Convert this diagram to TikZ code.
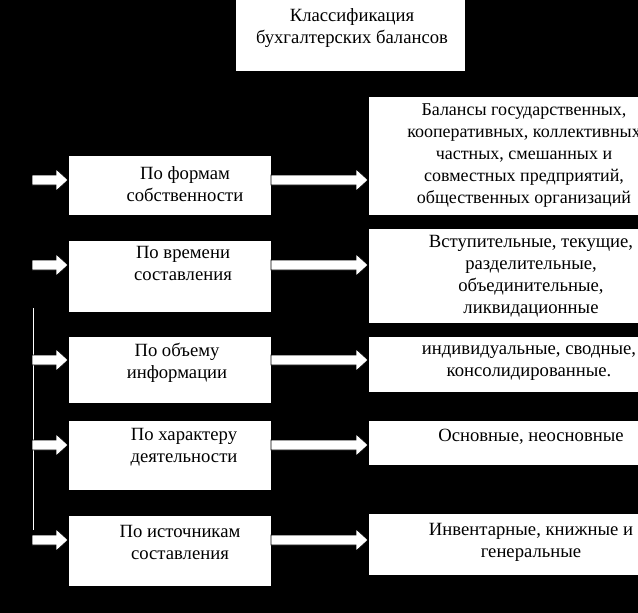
\documentclass[tikz,border=0pt]{standalone}
\usepackage{fontspec}
\setmainfont{Liberation Serif}
\usetikzlibrary{positioning}
\tikzset{every picture/.style={line width=0.75pt}}
\tikzset{box/.style={draw=black,fill=white,inner sep=0pt},
  txt/.style={align=center,inner sep=0pt,font=\fontsize{14}{16.5}\selectfont},
  barrow/.style={fill=white,draw=black,line width=0.5pt}}
\newcommand{\barrowpath}[3]{% x1, x2, y
  \path[barrow] (#1,#3-5) -- (#2-12,#3-5) -- (#2-12,#3-11) -- (#2,#3) -- (#2-12,#3+11) -- (#2-12,#3+5) -- (#1,#3+5) -- cycle;}
\begin{document}
\begin{tikzpicture}[x=0.75pt,y=0.75pt,yscale=-1,xscale=1]
\fill[black] (0,0) rectangle (638,613);
\useasboundingbox (0,0) rectangle (638,613);
%title
\node[box,minimum width=230*0.75pt,minimum height=72*0.75pt] (title) at (350,36) {};
\node[txt] (titlet) at (352,28) {Классификация\\бухгалтерских балансов};
%left column
\node[box,minimum width=203*0.75pt,minimum height=60*0.75pt] (l1) at (169.5,185) {};
\node[box,minimum width=203*0.75pt,minimum height=72*0.75pt] (l2) at (169.5,276) {};
\node[box,minimum width=203*0.75pt,minimum height=67*0.75pt] (l3) at (169.5,369.5) {};
\node[box,minimum width=203*0.75pt,minimum height=70*0.75pt] (l4) at (169.5,455) {};
\node[box,minimum width=203*0.75pt,minimum height=71*0.75pt] (l5) at (169.5,550.5) {};
\node[txt] (l1t) at (185,184) {По формам\\собственности};
\node[txt] (l2t) at (183,263) {По времени\\составления};
\node[txt] (l3t) at (177,363) {По объему\\информации};
\node[txt] (l4t) at (184,447) {По характеру\\деятельности};
\node[txt] (l5t) at (180,542) {По источникам\\составления};
%right column
\node[box,minimum width=272*0.75pt,minimum height=118*0.75pt] (r1) at (504,156) {};
\node[box,minimum width=272*0.75pt,minimum height=95*0.75pt] (r2) at (504,275.5) {};
\node[box,minimum width=272*0.75pt,minimum height=56*0.75pt] (r3) at (504,364) {};
\node[box,minimum width=272*0.75pt,minimum height=45*0.75pt] (r4) at (504,442.5) {};
\node[box,minimum width=272*0.75pt,minimum height=62*0.75pt] (r5) at (504,544) {};
\node[txt,font=\fontsize{13.5}{16.5}\selectfont] (r1t) at (524,156) {Балансы государственных,\\кооперативных, коллективных\\частных, смешанных и\\совместных предприятий,\\общественных организаций};
\node[txt] (r2t) at (531,276) {Вступительные, текущие,\\разделительные,\\объединительные,\\ликвидационные};
\node[txt] (r3t) at (529,363) {индивидуальные, сводные,\\консолидированные.};
\node[txt] (r4t) at (531,437) {Основные, неосновные};
\node[txt] (r5t) at (531,542) {Инвентарные, книжные и\\генеральные};
%left line
\draw[white,line width=0.6pt] (33,308) -- (33,530);
%arrows
\foreach \y in {180,265,360,445,540}{
  \barrowpath{32}{68}{\y}
  \barrowpath{271}{368}{\y}
}
\end{tikzpicture}
\end{document}
